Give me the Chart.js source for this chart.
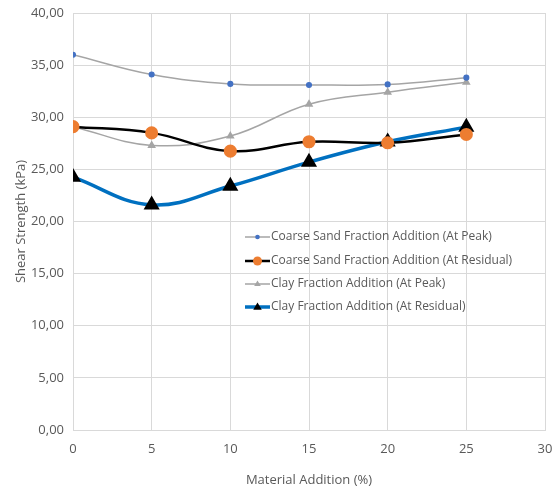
<!DOCTYPE html>
<html>
<head>
<meta charset="utf-8">
<script src="https://cdn.jsdelivr.net/npm/chart.js@4"></script>
<style>
  html, body { margin: 0; padding: 0; background: #fff; }
  #wrap { width: 556px; height: 488px; }
</style>
</head>
<body>
<div id="wrap"><canvas id="shearChart" width="556" height="488"></canvas></div>
<script>
// material addition (%)
const additions = [0, 5, 10, 15, 20, 25];

// shear strength (kPa)
const coarsePeak = [36.0, 34.1, 33.2, 33.1, 33.15, 33.8];
const coarseResidual = [29.1, 28.5, 26.75, 27.65, 27.55, 28.35];
const clayPeak = [29.1, 27.3, 28.2, 31.25, 32.4, 33.35];
const clayResidual = [24.25, 21.6, 23.4, 25.7, 27.65, 29.05];

const seriesNames = [
  'Coarse Sand Fraction Addition (At Peak)',
  'Coarse Sand Fraction Addition (At Residual)',
  'Clay Fraction Addition (At Peak)',
  'Clay Fraction Addition (At Residual)'
];

const yTicks = [0, 5, 10, 15, 20, 25, 30, 35, 40];
const xTicks = [0, 5, 10, 15, 20, 25, 30];

const textColor = '#595959';
const fontFam = "'Open Sans', 'Noto Sans', sans-serif";

function pts(ys) {
  return additions.map((x, i) => ({ x: x, y: ys[i] }));
}

const datasets = [
  {
    label: seriesNames[0], data: pts(coarsePeak),
    borderColor: '#a5a5a5', borderWidth: 1.5,
    pointBackgroundColor: '#4472c4', pointBorderColor: '#4472c4',
    pointStyle: 'circle', pointRadius: 2.3
  },
  {
    label: seriesNames[1], data: pts(coarseResidual),
    borderColor: '#000000', borderWidth: 2.5,
    pointBackgroundColor: '#ed7d31', pointBorderColor: '#ed7d31',
    pointStyle: 'circle', pointRadius: 5.3
  },
  {
    label: seriesNames[2], data: pts(clayPeak),
    borderColor: '#a5a5a5', borderWidth: 1.5,
    pointBackgroundColor: '#a5a5a5', pointBorderColor: '#a5a5a5',
    pointStyle: 'triangle', pointRadius: 3.5
  },
  {
    label: seriesNames[3], data: pts(clayResidual),
    borderColor: '#0070c0', borderWidth: 3.5,
    pointBackgroundColor: '#000000', pointBorderColor: '#000000',
    pointStyle: 'triangle', pointRadius: 5.8
  }
];

// legend drawn inside the plot area, like the excel one
const insideLegend = {
  id: 'insideLegend',
  afterDraw(chart) {
    const ctx = chart.ctx;
    const x0 = 245, x1 = 270, tx = 271;
    const rows = [237, 261, 284, 307];
    ctx.save();
    chart.data.datasets.forEach((ds, i) => {
      const y = rows[i];
      ctx.strokeStyle = ds.borderColor;
      ctx.lineWidth = ds.borderWidth;
      ctx.beginPath();
      ctx.moveTo(x0, y);
      ctx.lineTo(x1, y);
      ctx.stroke();
      const cx = (x0 + x1) / 2;
      const r = Math.min(ds.pointRadius, 4.5);
      ctx.fillStyle = ds.pointBackgroundColor;
      ctx.beginPath();
      if (ds.pointStyle === 'triangle') {
        ctx.moveTo(cx, y - r);
        ctx.lineTo(cx + r * 0.95, y + r * 0.6);
        ctx.lineTo(cx - r * 0.95, y + r * 0.6);
        ctx.closePath();
      } else {
        ctx.arc(cx, y, ds.pointRadius > 4 ? 4.5 : 2.3, 0, Math.PI * 2);
      }
      ctx.fill();
      ctx.fillStyle = textColor;
      ctx.font = "12px " + fontFam;
      ctx.textBaseline = 'middle';
      ctx.textAlign = 'left';
      ctx.fillText(ds.label, tx, y);
    });
    ctx.restore();
  }
};

new Chart(document.getElementById('shearChart').getContext('2d'), {
  type: 'line',
  data: { datasets: datasets },
  options: {
    responsive: false,
    animation: false,
    layout: { padding: { top: 13, right: 11, left: 0, bottom: 0 } },
    elements: { line: { tension: 0.4, cubicInterpolationMode: 'default' } },
    plugins: {
      legend: { display: false },
      tooltip: { enabled: false }
    },
    scales: {
      x: {
        type: 'linear', min: 0, max: 30,
        afterBuildTicks(scale) { scale.ticks = xTicks.map(v => ({ value: v })); },
        afterFit(scale) {
          scale.height = 58;
          scale.paddingLeft = 0;
          scale.paddingRight = 0;
        },
        grid: { color: '#d9d9d9', drawTicks: false },
        border: { color: '#d9d9d9' },
        ticks: { color: textColor, font: { family: fontFam, size: 13 }, padding: 11, maxRotation: 0 },
        title: {
          display: true, text: 'Material Addition (%)', color: textColor,
          font: { family: fontFam, size: 13 }, padding: { top: 4, bottom: 0 }
        }
      },
      y: {
        type: 'linear', min: 0, max: 40,
        afterBuildTicks(scale) { scale.ticks = yTicks.map(v => ({ value: v })); },
        afterFit(scale) {
          scale.width = 73;
          scale.paddingTop = 0;
          scale.paddingBottom = 0;
        },
        grid: { color: '#d9d9d9', drawTicks: false },
        border: { color: '#d9d9d9' },
        ticks: {
          color: textColor, font: { family: fontFam, size: 13 }, padding: 9,
          callback: v => v.toFixed(2).replace('.', ',')
        },
        title: {
          display: true, text: 'Shear Strength (kPa)', color: textColor,
          font: { family: fontFam, size: 13 }, padding: { top: 13, bottom: 0 }
        }
      }
    }
  },
  plugins: [insideLegend]
});
</script>
</body>
</html>
